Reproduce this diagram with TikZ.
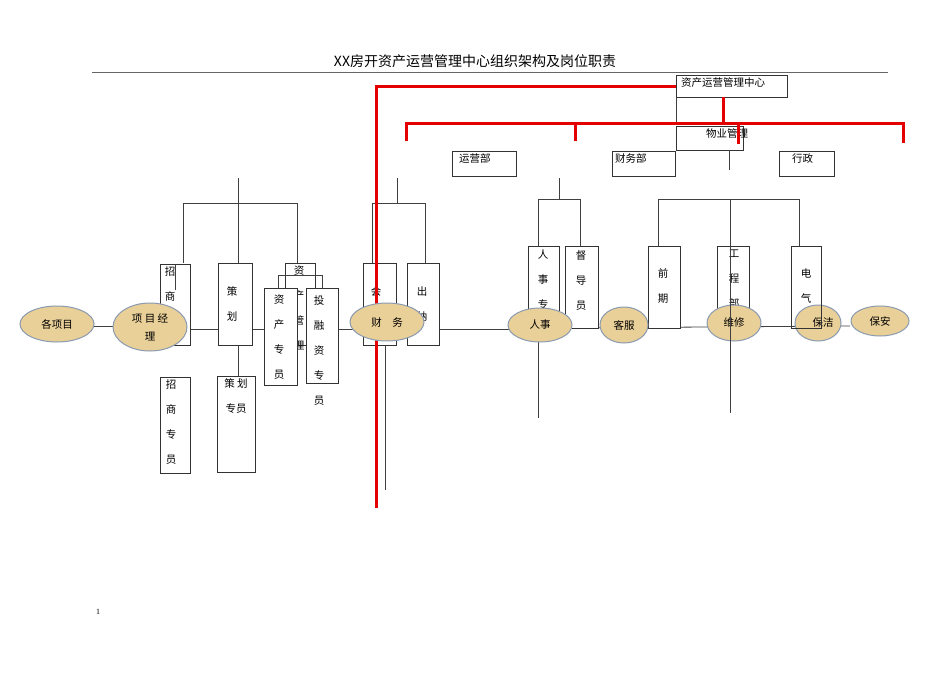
\documentclass[tikz,border=0pt]{standalone}
\usetikzlibrary{shapes.geometric}
\usepackage{fontspec}
\setmainfont{Liberation Serif}
\newfontfamily\cjk{Noto Sans CJK SC}
\definecolor{tan}{HTML}{E9CF98}
\definecolor{elb}{HTML}{8A9AB0}
\begin{document}
\begin{tikzpicture}[x=1pt,y=-1pt,
  ln/.style={draw=black!75,line width=0.8pt},
  red/.style={draw=red!90!black,line width=3pt},
  bx/.style={draw=black!80,fill=white,line width=0.8pt},
  el/.style={ellipse,draw=elb,fill=tan,line width=1pt,inner sep=0pt,font=\cjk\fontsize{10.5}{12}\selectfont},
  t/.style={font=\cjk\fontsize{10.5}{12}\selectfont,inner sep=1pt},
  vt/.style={font=\cjk\fontsize{10.5}{25}\selectfont,align=center,inner sep=0pt,anchor=north}]
\useasboundingbox (0,0) rectangle (950,672);
\node[font=\cjk\fontsize{14}{16}\selectfont] (title) at (475,61) {XX房开资产运营管理中心组织架构及岗位职责};
\draw[draw=black!60,line width=0.8pt] (92,72) -- (888,72);
\node[font=\fontsize{8}{9}\selectfont] (pg) at (98,612) {1};
% top boxes
\draw[bx] (676,75) rectangle (787,97);
\node[t,anchor=north west] (zc) at (680,76) {资产运营管理中心};
\draw[ln] (676,97) -- (676,123);
\draw[bx] (676,126) rectangle (743,150); \node[t,anchor=north west] (wy) at (705,127) {物业管理};
\draw[bx] (452,151) rectangle (516,176); \node[t,anchor=north west] (yy) at (458,152) {运营部};
\draw[bx] (612,151) rectangle (675,176); \node[t,anchor=north west] (cw) at (614,152) {财务部};
\draw[bx] (779,151) rectangle (834,176); \node[t,anchor=north west] (xz) at (791,152) {行政};
\draw[ln] (729,150) -- (729,170);
% left group lines
\draw[ln] (238,178) -- (238,263);
\draw[ln] (183,263) -- (183,203) -- (297,203) -- (297,263);
\draw[ln] (238,345) -- (238,376);
% finance group lines
\draw[ln] (397,178) -- (397,203);
\draw[ln] (372,263) -- (372,203) -- (425,203) -- (425,263);
\draw[ln] (385,330) -- (385,490);
% hr group
\draw[ln] (559,178) -- (559,199);
\draw[ln] (538,246) -- (538,199) -- (580,199) -- (580,246);
\draw[ln] (538,330) -- (538,418);
% property group
\draw[ln] (658,246) -- (658,199) -- (799,199) -- (799,246);
% main horizontal
\draw[ln] (94,326) -- (120,326);
\draw[ln] (180,329) -- (560,329);
\draw[ln] (560,328) -- (850,326);
% boxes left
\draw[bx] (160,264) rectangle (190,345); \node[vt] (zs) at (170,266) {招\\商};
\draw[ln] (175,265) -- (175,290);
\draw[bx] (218,263) rectangle (252,345); \node[vt] (ch) at (232,286) {策\\划};
\draw[bx] (285,263) rectangle (315,345); \node[vt] (zg) at (299,266) {资\\产\\管\\理};
\draw[ln] (278,300) -- (278,275) -- (322,275) -- (322,300);
\draw[bx] (264,288) rectangle (297,385); \node[vt] (zz) at (279,295) {资\\产\\专\\员};
\draw[bx] (306,288) rectangle (338,383); \node[vt] (tr) at (319,295) {投\\融\\资\\专\\员};
\draw[bx] (160,377) rectangle (190,473); \node[vt] (zsz) at (171,379) {招\\商\\专\\员};
\draw[bx] (217,376) rectangle (255,472); \node[vt] (chz) at (236,378) {策 划\\专员};
% finance boxes
\draw[bx] (363,263) rectangle (396,345); \node[vt] (kj) at (376,286) {会\\计};
\draw[bx] (407,263) rectangle (439,345); \node[vt] (cn) at (422,286) {出\\纳};
% hr boxes
\draw[bx] (528,246) rectangle (559,330); \node[vt] (rsz) at (543,250) {人\\事\\专\\员};
\draw[bx] (565,246) rectangle (598,328); \node[vt] (dd) at (581,250) {督\\导\\员};
% property boxes
\draw[bx] (648,246) rectangle (680,328); \node[vt] (qq) at (663,268) {前\\期};
\draw[bx] (717,246) rectangle (749,330); \node[vt] (gc) at (734,250) {工\\程\\部};
% red lines
\draw[red] (676,86) -- (376,86) -- (376,508);
\draw[red] (723,97) -- (723,123);
\draw[red] (406,141) -- (406,123) -- (903,123) -- (903,143);
\draw[red] (575,123) -- (575,141);
\draw[red] (738,123) -- (738,144);
% ellipses
\node[el,minimum width=74pt,minimum height=36pt] (gxm) at (57,324) {各项目};
\node[el,minimum width=74pt,minimum height=48pt,align=center,font=\cjk\fontsize{10.5}{18}\selectfont] (xmjl) at (150,327) {项 目 经\\理};
\node[el,minimum width=74pt,minimum height=38pt] (cwe) at (387,322) {财\quad 务};
\node[el,minimum width=64pt,minimum height=34pt] (rs) at (540,325) {人事};
\node[el,minimum width=48pt,minimum height=36pt] (kf) at (624,325) {客服};
\node[el,minimum width=54pt,minimum height=36pt] (wx) at (734,323) {维修};
\node[el,minimum width=46pt,minimum height=36pt] (bj) at (818,323) {\hspace*{10pt}保洁};
\node[el,minimum width=58pt,minimum height=30pt] (ba) at (880,321) {保安};
\draw[ln] (730,199) -- (730,413);
\draw[bx,fill=none] (791,246) rectangle (821,328);
\node[vt] (dq) at (806,268) {电\\气};
\end{tikzpicture}
\end{document}
